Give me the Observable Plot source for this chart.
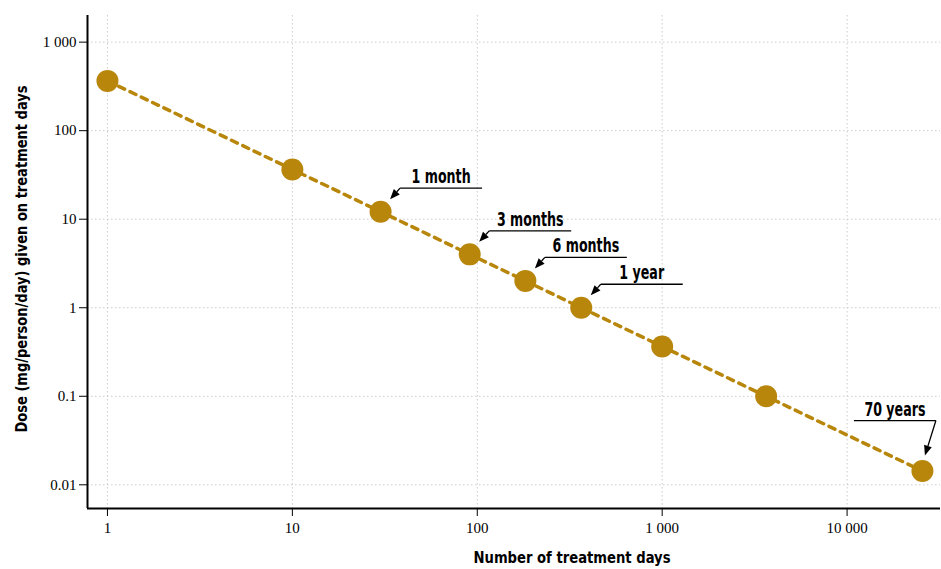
<!DOCTYPE html>
<html>
<head>
<meta charset="utf-8">
<script src="https://cdn.jsdelivr.net/npm/d3@7"></script>
<script src="https://cdn.jsdelivr.net/npm/@observablehq/plot@0.6"></script>
<style>
  html, body { margin: 0; padding: 0; background: #fff; }
</style>
</head>
<body>
<div id="chart"></div>
<script>
// Treatment duration (days) and the daily dose that gives the same total
const days = [1, 10, 30, 91, 182, 365, 1000, 3650, 25550];
const dose = [365, 36.5, 12.17, 4.01, 2.01, 1, 0.365, 0.1, 0.0143];

// Durations singled out with a callout
const calloutDays = [30, 91, 182, 365, 25550];
const calloutLabels = ["1 month", "3 months", "6 months", "1 year", "70 years"];

// Axis ticks and their labels
const xTicks = [1, 10, 100, 1000, 10000];
const xTickLabels = ["1", "10", "100", "1 000", "10 000"];
const yTicks = [0.01, 0.1, 1, 10, 100, 1000];
const yTickLabels = ["0.01", "0.1", "1", "10", "100", "1 000"];

const xTitle = "Number of treatment days";
const yTitle = "Dose (mg/person/day) given on treatment days";

const rows = days.map((d, i) => ({days: d, dose: dose[i]}));
const xDomain = [0.78, 32000];
const yDomain = [0.0054, 2000];

const gold = "#B8860B";
const titleFont = "'DejaVu Sans Condensed', 'DejaVu Sans', sans-serif";

// Callouts: a short leader line under each label with an arrow to its dot
function callouts(index, scales) {
  const g = d3.create("svg:g")
    .attr("fill", "none")
    .attr("stroke", "#000");
  calloutDays.forEach((d, i) => {
    const px = scales.x(d);
    const py = scales.y(dose[days.indexOf(d)]);
    const last = i === calloutDays.length - 1;
    // elbow: where the arrow leaves the leader line
    const ex = last ? px + 14 : px + 20;
    const ey = last ? py - 50 : py - 23;
    const tx = last ? px + 3 : px + 10;
    const ty = last ? py - 15 : py - 12;
    const len = 82;
    const x0 = last ? ex - len : ex;
    const x1 = last ? ex : ex + len;
    g.append("line")
      .attr("x1", x0).attr("x2", x1)
      .attr("y1", ey).attr("y2", ey)
      .attr("stroke-width", 1.3);
    // arrow shaft and head
    const ang = Math.atan2(ty - ey, tx - ex);
    const head = 10, half = 4;
    const bx = tx - head * Math.cos(ang), by = ty - head * Math.sin(ang);
    g.append("line")
      .attr("x1", ex).attr("y1", ey)
      .attr("x2", bx).attr("y2", by)
      .attr("stroke-width", 1.3);
    g.append("path")
      .attr("stroke", "none")
      .attr("fill", "#000")
      .attr("d", `M${tx},${ty}L${bx + half * Math.sin(ang)},${by - half * Math.cos(ang)}L${bx - half * Math.sin(ang)},${by + half * Math.cos(ang)}Z`);
    g.append("text")
      .attr("stroke", "none")
      .attr("fill", "#000")
      .attr("transform", `translate(${(x0 + x1) / 2},${ey - 5}) scale(0.74,1)`)
      .attr("text-anchor", "middle")
      .attr("font-family", titleFont)
      .attr("font-weight", "bold")
      .attr("font-size", 19)
      .text(calloutLabels[i]);
  });
  return g.node();
}

const chart = Plot.plot({
  width: 941,
  height: 569,
  marginLeft: 87,
  marginRight: 1,
  marginTop: 15,
  marginBottom: 61,
  style: {
    fontFamily: "'Liberation Serif', 'DejaVu Serif', serif",
    fontSize: "15px",
    background: "#fff",
    color: "#000"
  },
  x: {
    type: "log",
    domain: xDomain,
    ticks: xTicks,
    tickFormat: d => xTickLabels[xTicks.indexOf(d)],
    tickSize: 8,
    tickPadding: 6,
    label: null
  },
  y: {
    type: "log",
    domain: yDomain,
    ticks: yTicks,
    tickFormat: d => yTickLabels[yTicks.indexOf(d)],
    tickSize: 8,
    tickPadding: 3,
    label: null
  },
  marks: [
    Plot.ruleX(xTicks, {stroke: "#cccccc", strokeWidth: 1, strokeDasharray: "1.5,2.5"}),
    Plot.ruleY(yTicks, {stroke: "#cccccc", strokeWidth: 1, strokeDasharray: "1.5,2.5"}),
    Plot.ruleX([xDomain[0]], {stroke: "#000", strokeWidth: 2}),
    Plot.ruleY([yDomain[0]], {stroke: "#000", strokeWidth: 2}),
    Plot.line(rows, {x: "days", y: "dose", stroke: gold, strokeWidth: 3.5, strokeDasharray: "6.5,6"}),
    Plot.dot(rows, {x: "days", y: "dose", r: 11, fill: gold}),
    callouts,
    Plot.text([xTitle], {
      frameAnchor: "bottom", textAnchor: "middle", lineAnchor: "middle", dx: 58, dy: 49,
      fontFamily: titleFont, fontWeight: "bold", fontSize: 16, fill: "#000"
    }),
    Plot.text([yTitle], {
      frameAnchor: "left", textAnchor: "middle", lineAnchor: "middle", dx: -66, dy: -3, rotate: -90,
      fontFamily: titleFont, fontWeight: "bold", fontSize: 16, fill: "#000"
    })
  ]
});

// Fit the axis titles to their set lengths
d3.select(chart).selectAll("text").each(function() {
  const t = this.textContent;
  if (t === xTitle) this.setAttribute("textLength", 197);
  if (t === yTitle) this.setAttribute("textLength", 347);
  if (t === xTitle || t === yTitle) this.setAttribute("lengthAdjust", "spacingAndGlyphs");
});

document.getElementById("chart").appendChild(chart);
</script>
</body>
</html>
